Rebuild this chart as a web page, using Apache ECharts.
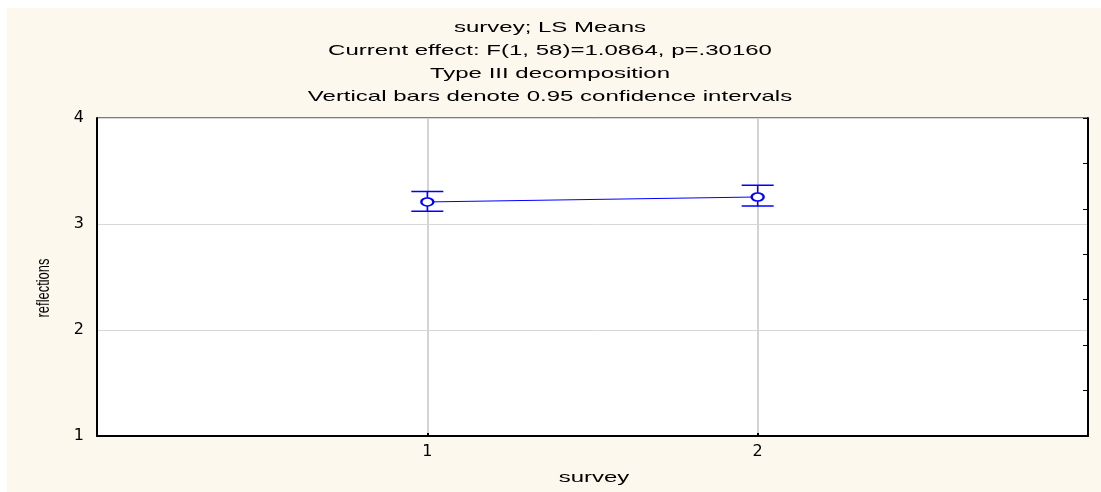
<!DOCTYPE html>
<html>
<head>
<meta charset="utf-8">
<script src="https://cdn.jsdelivr.net/npm/echarts@6/dist/echarts.min.js"></script>
<style>
  html, body { margin: 0; padding: 0; background: #fff; }
  #chart { width: 1101px; height: 492px; }
</style>
</head>
<body>
<div id="chart"></div>
<script>
// survey levels and LS means with 0.95 confidence limits
const surveys = [1, 2]
const means = [3.208, 3.255]
const lower = [3.12, 3.17]
const upper = [3.306, 3.365]
const yTicks = [1, 2, 3, 4]

const titleLines = [
  'survey; LS Means',
  'Current effect: F(1, 58)=1.0864, p=.30160',
  'Type III decomposition',
  'Vertical bars denote 0.95 confidence intervals'
]
const xName = 'survey'
const yName = 'reflections'

const font = '"Liberation Sans", Arial, sans-serif'
const blue = '#0000ff'
const stretch = 1.6 // the original export is stretched sideways

const chart = echarts.init(document.getElementById('chart'), null, { renderer: 'canvas' })

// text drawn wide, like the original picture
const wideText = (text, x, y, opts = {}) => ({
  type: 'text',
  x,
  y,
  scaleX: opts.scaleX ?? stretch,
  scaleY: opts.scaleY ?? 1,
  rotation: opts.rotation ?? 0,
  z: 10,
  style: {
    text,
    fill: '#000',
    font: opts.font ?? '15px ' + font,
    textAlign: 'center',
    textVerticalAlign: 'middle'
  }
})

const option = {
  backgroundColor: '#ffffff',
  animation: false,
  graphic: [
    {
      type: 'rect',
      z: -10,
      shape: { x: 7, y: 8, width: 1094, height: 484 },
      style: { fill: '#fdf8ee' }
    },
    ...titleLines.map((t, i) => wideText(t, 550, 28 + i * 23)),
    wideText(xName, 594, 478),
    wideText(yName, 44, 288, { rotation: Math.PI / 2, scaleX: 0.68, font: '19px ' + font })
  ],
  grid: {
    left: 97,
    right: 13,
    top: 118,
    bottom: 56,
    show: true,
    backgroundColor: '#ffffff',
    borderColor: '#000',
    borderWidth: 1
  },
  xAxis: {
    type: 'value',
    min: 0,
    max: 3,
    interval: 1,
    axisLine: { show: true, lineStyle: { color: '#000', width: 2 } },
    axisTick: { show: true, inside: true, length: 3, lineStyle: { color: '#000', width: 2 } },
    axisLabel: {
      fontFamily: '"DejaVu Sans", sans-serif',
      fontSize: 16,
      color: '#000',
      margin: 8,
      formatter: v => (surveys.includes(v) ? String(v) : '')
    },
    splitLine: { show: true, lineStyle: { color: '#d4d4d4', width: 2 } }
  },
  yAxis: [
    {
      type: 'value',
      min: yTicks[0],
      max: yTicks[yTicks.length - 1],
      interval: 1,
      axisLine: { show: true, lineStyle: { color: '#000', width: 2 } },
      axisTick: { show: false },
      axisLabel: { fontFamily: '"DejaVu Sans", sans-serif', fontSize: 16, color: '#000', margin: 13 },
      splitLine: { show: true, lineStyle: { color: '#d8d8d8', width: 1 } }
    },
    {
      type: 'value',
      position: 'right',
      min: 0,
      max: 7,
      interval: 1,
      axisLine: { show: true, lineStyle: { color: '#000', width: 2 } },
      axisTick: { show: true, inside: true, length: 5, lineStyle: { color: '#000', width: 1 } },
      axisLabel: { show: false },
      splitLine: { show: false }
    }
  ],
  series: [
    {
      type: 'custom',
      z: 3,
      data: surveys.map((s, i) => [s, lower[i], upper[i]]),
      renderItem: (params, api) => {
        const x = api.value(0)
        const lo = api.coord([x, api.value(1)])
        const hi = api.coord([x, api.value(2)])
        const half = 16
        const style = { stroke: blue, lineWidth: 1.5 }
        return {
          type: 'group',
          children: [
            { type: 'line', shape: { x1: lo[0], y1: lo[1], x2: hi[0], y2: hi[1] }, style },
            { type: 'line', shape: { x1: lo[0] - half, y1: lo[1], x2: lo[0] + half, y2: lo[1] }, style },
            { type: 'line', shape: { x1: hi[0] - half, y1: hi[1], x2: hi[0] + half, y2: hi[1] }, style }
          ]
        }
      }
    },
    {
      type: 'line',
      z: 4,
      data: surveys.map((s, i) => [s, means[i]]),
      symbol: 'emptyCircle',
      symbolSize: [12, 8],
      lineStyle: { color: blue, width: 1 },
      itemStyle: { color: blue, borderColor: blue, borderWidth: 2 }
    }
  ]
}

chart.setOption(option)
</script>
</body>
</html>
